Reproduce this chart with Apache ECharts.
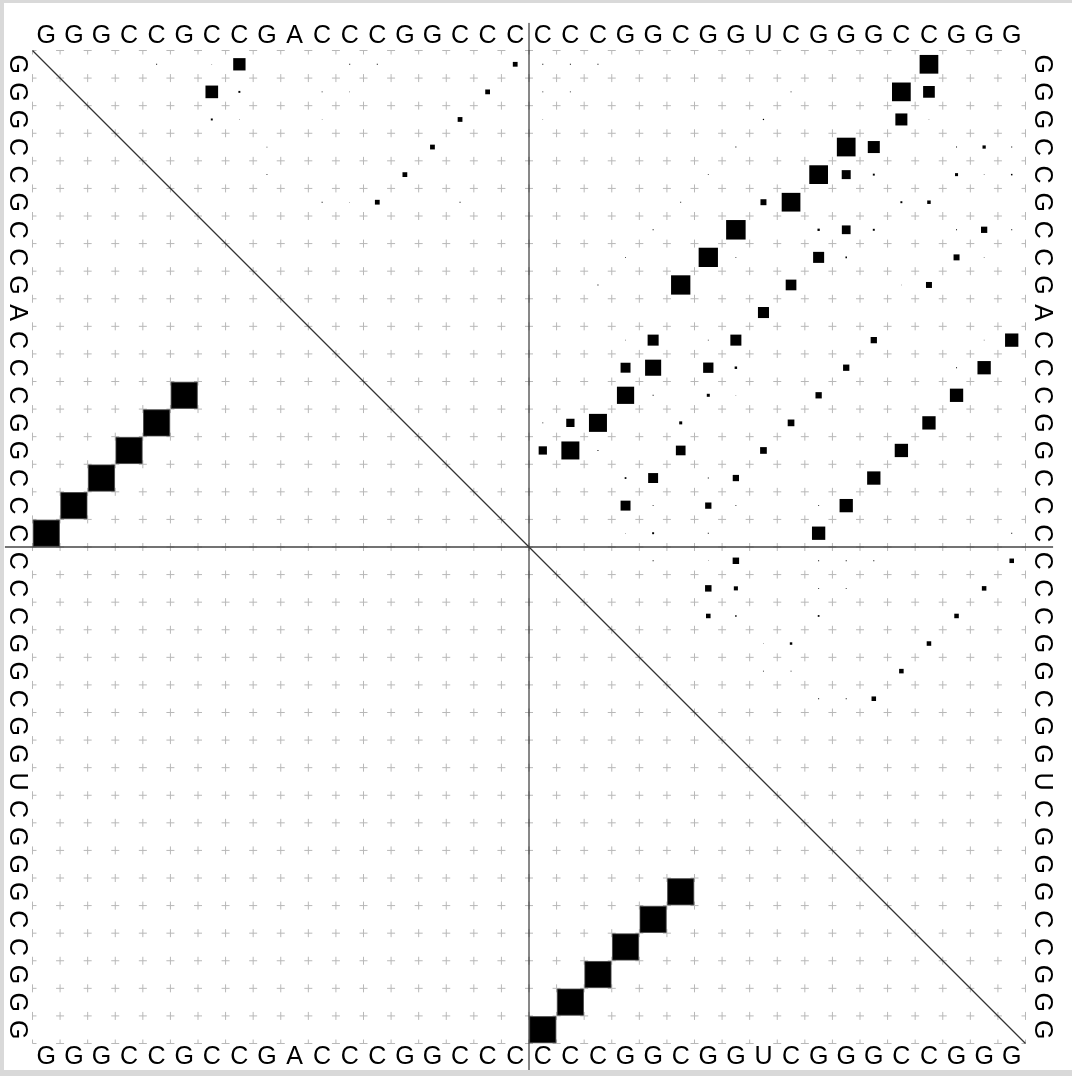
<!DOCTYPE html>
<html><head><meta charset="utf-8">
<script src="https://cdn.jsdelivr.net/npm/echarts@6/dist/echarts.min.js"></script>
<style>
html,body{margin:0;padding:0;background:#fff;}
#chart{position:absolute;left:0;top:0;width:1072px;height:1076px;}
.band{position:absolute;background:#d9d9d9;}
</style></head><body>
<div id="chart"></div>
<div class="band" style="left:0;top:0;width:1072px;height:3px"></div>
<div class="band" style="left:0;top:0;width:4px;height:1076px"></div>
<div class="band" style="left:0;top:1070px;width:1072px;height:6px"></div>
<script>
// ---- data ----
const strand1 = ['G','G','G','C','C','G','C','C','G','A','C','C','C','G','G','C','C','C'];
const strand2 = ['C','C','C','G','G','C','G','G','U','C','G','G','G','C','C','G','G','G'];
const sequence = strand1.concat(strand2);
const cutpoint = strand1.length;

// MFE structure base pairs [i, j] (drawn in lower triangle)
const mfePairs = [
  [0,17],[1,16],[2,15],[3,14],[4,13],[5,12],
  [18,35],[19,34],[20,33],[21,32],[22,31],[23,30]
];

// Pair probabilities [i, j, p] (drawn in upper triangle)
const pairProbs = [
  // strand 1 intramolecular
  [0,4,0.0013],[0,6,0.0004],[0,7,0.20],[0,11,0.0013],[0,12,0.0013],[0,17,0.03],
  [1,6,0.21],[1,7,0.005],[1,10,0.0013],[1,11,0.0004],[1,16,0.03],
  [2,6,0.005],[2,7,0.0004],[2,10,0.0004],[2,15,0.03],
  [3,8,0.0008],[3,14,0.03],
  [4,8,0.0013],[4,13,0.03],
  [5,10,0.0013],[5,11,0.0004],[5,12,0.03],[5,15,0.0013],
  // intermolecular
  [0,18,0.0013],[0,19,0.0013],[0,20,0.0013],[0,32,0.46],
  [1,18,0.0013],[1,19,0.0013],[1,27,0.0013],[1,31,0.46],[1,32,0.18],
  [2,18,0.0004],[2,26,0.002],[2,31,0.19],[2,32,0.0004],
  [3,25,0.0013],[3,29,0.46],[3,30,0.19],[3,33,0.0013],[3,34,0.014],[3,35,0.0013],
  [4,24,0.001],[4,28,0.46],[4,29,0.106],[4,30,0.005],[4,33,0.012],[4,34,0.0004],[4,35,0.003],
  [5,23,0.001],[5,26,0.047],[5,27,0.46],[5,31,0.005],[5,32,0.016],
  [6,22,0.0013],[6,25,0.50],[6,28,0.007],[6,29,0.10],[6,30,0.005],[6,33,0.0013],[6,34,0.052],[6,35,0.0013],
  [7,21,0.001],[7,24,0.49],[7,25,0.001],[7,28,0.16],[7,29,0.003],[7,33,0.047],[7,34,0.0004],
  [8,20,0.0013],[8,23,0.49],[8,27,0.15],[8,31,0.0004],[8,32,0.047],
  [9,26,0.16],
  [10,21,0.0004],[10,22,0.16],[10,24,0.001],[10,25,0.16],[10,30,0.052],[10,34,0.0004],[10,35,0.233],
  [11,21,0.13],[11,22,0.34],[11,24,0.14],[11,25,0.008],[11,29,0.052],[11,33,0.0013],[11,34,0.233],
  [12,21,0.39],[12,22,0.0013],[12,24,0.012],[12,25,0.0004],[12,28,0.052],[12,33,0.233],
  [13,18,0.0013],[13,19,0.09],[13,20,0.426],[13,23,0.012],[13,27,0.059],[13,32,0.233],
  [14,18,0.09],[14,19,0.426],[14,20,0.0013],[14,23,0.123],[14,26,0.059],[14,31,0.233],
  [15,21,0.004],[15,22,0.13],[15,24,0.0013],[15,25,0.052],[15,30,0.233],
  [16,21,0.13],[16,22,0.0013],[16,24,0.052],[16,25,0.0013],[16,28,0.0013],[16,29,0.233],
  [17,21,0.0004],[17,22,0.005],[17,24,0.0013],[17,28,0.233],[17,35,0.0013],
  // strand 2 intramolecular
  [18,22,0.0013],[18,24,0.0004],[18,25,0.055],[18,28,0.0013],[18,29,0.0013],[18,30,0.0013],[18,35,0.027],
  [19,24,0.055],[19,25,0.022],[19,28,0.0013],[19,29,0.0013],[19,34,0.027],
  [20,24,0.027],[20,25,0.003],[20,28,0.004],[20,33,0.027],
  [21,26,0.0004],[21,27,0.008],[21,32,0.027],
  [22,26,0.0013],[22,27,0.0013],[22,31,0.027],
  [23,28,0.0013],[23,29,0.0013],[23,30,0.027]
];

// ---- build ----
const N = sequence.length;
const FONT = '"Liberation Sans", Arial, Helvetica, sans-serif';

// grid intersections (structure of the lattice)
const crossData = [];
for (let a = 0; a <= N; a++) {
  for (let b = 0; b <= N; b++) {
    crossData.push([Math.min(a, N - 1), Math.min(b, N - 1), a < N ? -0.5 : 0.5, b < N ? -0.5 : 0.5]);
  }
}

const boxData = [];
pairProbs.forEach(d => boxData.push([d[1], d[0], d[2], 0])); // upper: row i, col j
mfePairs.forEach(d => boxData.push([d[0], d[1], 1, 1]));    // lower: row j, col i

const chart = echarts.init(document.getElementById('chart'), null, {renderer: 'canvas'});

const labelBase = {interval: 0, fontSize: 25, color: '#000', fontFamily: FONT};
const hidden = {axisLine: {show: false}, axisTick: {show: false}, splitLine: {show: false}};

chart.setOption({
  animation: false,
  backgroundColor: '#fff',
  grid: {left: 32.5, top: 50.5, width: 993, height: 993, containLabel: false},
  xAxis: [
    Object.assign({type: 'category', data: sequence, position: 'bottom',
      axisLabel: Object.assign({margin: 1.5}, labelBase)}, hidden),
    Object.assign({type: 'category', data: sequence, position: 'top',
      axisLabel: Object.assign({margin: 1.5}, labelBase)}, hidden)
  ],
  yAxis: [
    Object.assign({type: 'category', data: sequence, inverse: true, position: 'left',
      axisLabel: Object.assign({margin: 3.5, rotate: -90}, labelBase)}, hidden),
    Object.assign({type: 'category', data: sequence, inverse: true, position: 'right',
      axisLabel: Object.assign({margin: 3.5, rotate: -90}, labelBase)}, hidden)
  ],
  series: [
    {
      type: 'custom', name: 'grid', clip: false, silent: true, z: 1,
      data: crossData,
      renderItem: function (params, api) {
        const cs = params.coordSys;
        const sz = api.size([1, 1]);
        const bw = Math.abs(sz[0]), bh = Math.abs(sz[1]);
        const c = api.coord([api.value(0), api.value(1)]);
        const x = c[0] + api.value(2) * bw;
        const y = c[1] + api.value(3) * bh;
        const arm = 4;
        const x1 = Math.max(cs.x, x - arm), x2 = Math.min(cs.x + cs.width, x + arm);
        const y1 = Math.max(cs.y, y - arm), y2 = Math.min(cs.y + cs.height, y + arm);
        const st = {stroke: '#b8b8b8', lineWidth: 1};
        return {type: 'group', children: [
          {type: 'line', shape: {x1: x1, y1: y, x2: x2, y2: y}, style: st},
          {type: 'line', shape: {x1: x, y1: y1, x2: x, y2: y2}, style: st}
        ]};
      }
    },
    {
      type: 'custom', name: 'frame', clip: false, silent: true, z: 2,
      data: [[cutpoint, cutpoint]],
      renderItem: function (params, api) {
        const cs = params.coordSys;
        const sz = api.size([1, 1]);
        const bw = Math.abs(sz[0]), bh = Math.abs(sz[1]);
        const c = api.coord([api.value(0), api.value(1)]);
        const cx = c[0] - bw / 2, cy = c[1] - bh / 2;
        return {type: 'group', children: [
          {type: 'line', shape: {x1: cs.x, y1: cs.y, x2: cs.x + cs.width, y2: cs.y + cs.height},
            style: {stroke: '#333', lineWidth: 1.3}},
          {type: 'line', shape: {x1: cx, y1: cs.y - bh, x2: cx, y2: cs.y + cs.height + bh},
            style: {stroke: '#111', lineWidth: 1}},
          {type: 'line', shape: {x1: cs.x - bw, y1: cy, x2: cs.x + cs.width + bw, y2: cy},
            style: {stroke: '#444', lineWidth: 1.3}}
        ]};
      }
    },
    {
      type: 'custom', name: 'pairs', clip: false, z: 3,
      data: boxData,
      renderItem: function (params, api) {
        const sz = api.size([1, 1]);
        const bw = Math.abs(sz[0]);
        const c = api.coord([api.value(0), api.value(1)]);
        const mfe = api.value(3) === 1;
        const side = mfe ? 0.95 * bw : Math.sqrt(api.value(2)) * bw;
        return {type: 'rect',
          shape: {x: c[0] - side / 2, y: c[1] - side / 2, width: side, height: side},
          style: mfe ? {fill: '#000', stroke: '#444', lineWidth: 0.8} : {fill: '#000'}};
      }
    }
  ]
});
</script>
</body></html>
